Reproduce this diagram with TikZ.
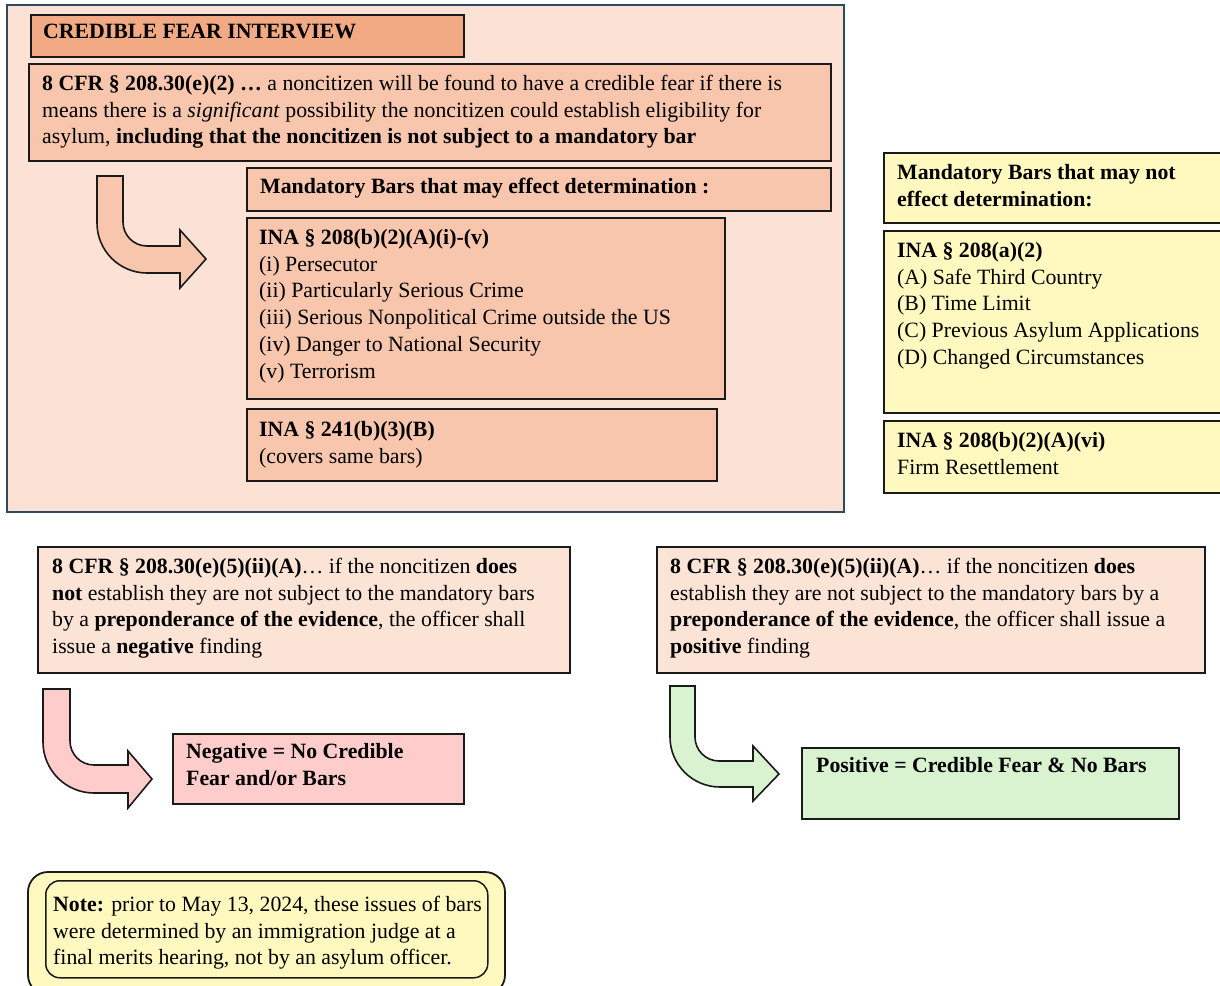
\documentclass[tikz,border=0pt]{standalone}
\usepackage{fontspec}
\setmainfont{Liberation Serif}
\newcommand\fsz{\fontsize{21.8pt}{26.8pt}\selectfont}
\newcommand\fl{\rule{0pt}{18pt}}
\definecolor{panelfill}{HTML}{FBE2D5}
\definecolor{panelline}{HTML}{2F4A5E}
\definecolor{salmon}{HTML}{F2AA84}
\definecolor{peach}{HTML}{F7C6AC}
\definecolor{lightpeach}{HTML}{FBE3D6}
\definecolor{lemon}{HTML}{FFF9C0}
\definecolor{pinkfill}{HTML}{FFCCCC}
\definecolor{greenfill}{HTML}{D9F2D0}
\definecolor{edge}{HTML}{1A1A1A}
\begin{document}
\begin{tikzpicture}[x=1pt,y=-1pt,
  boxstyle/.style={draw=edge,line width=1.8pt,anchor=north west,inner sep=0pt},
  txt/.style={anchor=north west,inner sep=0pt,align=left,font=\fsz,text=black},
  bent/.style={draw=edge,line width=1.6pt,line join=miter}]
\useasboundingbox (0,0) rectangle (1220,985);
% top panel
\node[draw=panelline,line width=2pt,fill=panelfill,anchor=north west,inner sep=0pt,minimum width=837pt,minimum height=507pt] (panel) at (6,4) {};
\node[boxstyle,fill=salmon,minimum width=433pt,minimum height=42pt] (cfi) at (30,14) {};
\node[txt] (cfit) at (43,20) {\fl\textbf{CREDIBLE FEAR INTERVIEW}};
\node[boxstyle,fill=peach,minimum width=802pt,minimum height=97pt] (cfr) at (28,63) {};
\node[txt] (cfrt) at (42,72) {\fl\textbf{8 CFR § 208.30(e)(2) …} a noncitizen will be found to have a credible fear if there is\\
means there is a \textit{significant} possibility the noncitizen could establish eligibility for\\
asylum, \textbf{including that the noncitizen is not subject to a mandatory bar}};
\node[boxstyle,fill=peach,minimum width=584pt,minimum height=43pt] (mb) at (246,167) {};
\node[txt] (mbt) at (260,175) {\fl\textbf{Mandatory Bars that may effect determination :}};
\node[boxstyle,fill=peach,minimum width=478pt,minimum height=181pt] (ina) at (246,217) {};
\node[txt] (inat) at (259,226) {\fl\textbf{INA § 208(b)(2)(A)(i)-(v)}\\
(i) Persecutor\\
(ii) Particularly Serious Crime\\
(iii) Serious Nonpolitical Crime outside the US\\
(iv) Danger to National Security\\
(v) Terrorism};
\node[boxstyle,fill=peach,minimum width=470pt,minimum height=72pt] (ina241) at (246,408) {};
\node[txt] (ina241t) at (259,418) {\fl\textbf{INA § 241(b)(3)(B)}\\(covers same bars)};
\draw[bent,fill=peach] (97,176) -- (123,176) -- (123,222) arc[start angle=180,end angle=90,radius=24] -- (180,246) -- (180,230) -- (206,259) -- (180,288) -- (180,273) -- (147,273) arc[start angle=90,end angle=180,radius=50] -- cycle;
% right yellow column
\node[boxstyle,fill=lemon,minimum width=342pt,minimum height=70pt] (y1) at (883,152) {};
\node[txt] (y1t) at (897,161) {\fl\textbf{Mandatory Bars that may not}\\\textbf{effect determination:}};
\node[boxstyle,fill=lemon,minimum width=342pt,minimum height=182pt] (y2) at (883,230) {};
\node[txt] (y2t) at (897,239) {\fl\textbf{INA § 208(a)(2)}\\
(A) Safe Third Country\\
(B) Time Limit\\
(C) Previous Asylum Applications\\
(D) Changed Circumstances};
\node[boxstyle,fill=lemon,minimum width=342pt,minimum height=72pt] (y3) at (883,420) {};
\node[txt] (y3t) at (897,429) {\fl\textbf{INA § 208(b)(2)(A)(vi)}\\Firm Resettlement};
% bottom boxes
\node[boxstyle,fill=lightpeach,minimum width=532pt,minimum height=126pt] (neg) at (37,546) {};
\node[txt] (negt) at (52,555) {\fl\textbf{8 CFR § 208.30(e)(5)(ii)(A)}… if the noncitizen \textbf{does}\\
\textbf{not} establish they are not subject to the mandatory bars\\
by a \textbf{preponderance of the evidence}, the officer shall\\
issue a \textbf{negative} finding};
\node[boxstyle,fill=lightpeach,minimum width=548pt,minimum height=126pt] (pos) at (656,546) {};
\node[txt] (post) at (670,555) {\fl\textbf{8 CFR § 208.30(e)(5)(ii)(A)}… if the noncitizen \textbf{does}\\
establish they are not subject to the mandatory bars by a\\
\textbf{preponderance of the evidence}, the officer shall issue a\\
\textbf{positive} finding};
\draw[bent,fill=pinkfill] (43,689) -- (70,689) -- (70,741) arc[start angle=180,end angle=90,radius=24] -- (128,765) -- (128,751) -- (152,779) -- (128,808) -- (128,793) -- (94,793) arc[start angle=90,end angle=180,radius=51] -- cycle;
\node[boxstyle,fill=pinkfill,minimum width=291pt,minimum height=70pt] (negres) at (172,733) {};
\node[txt] (negrest) at (186,740) {\fl\textbf{Negative = No Credible}\\\textbf{Fear and/or Bars}};
\draw[bent,fill=greenfill] (670,686) -- (695,686) -- (695,737) arc[start angle=180,end angle=90,radius=24] -- (753,761) -- (753,746) -- (779,774) -- (753,801) -- (753,787) -- (720,787) arc[start angle=90,end angle=180,radius=50] -- cycle;
\node[boxstyle,fill=greenfill,minimum width=377pt,minimum height=71pt] (posres) at (801,747) {};
\node[txt] (posrest) at (816,754) {\fl\textbf{Positive = Credible Fear \& No Bars}};
% note
\draw[draw=edge,line width=1.8pt,fill=lemon,rounded corners=20pt] (28,872) rectangle (505,995);
\node[draw=edge,line width=1.5pt,rounded corners=14pt,anchor=north west,inner sep=0pt,minimum width=442pt,minimum height=97pt] (note) at (45,880) {};
\node[txt] (notet) at (53,893) {\fl\textbf{Note:} prior to May 13, 2024, these issues of bars\\
were determined by an immigration judge at a\\
final merits hearing, not by an asylum officer.};
\end{tikzpicture}
\end{document}
